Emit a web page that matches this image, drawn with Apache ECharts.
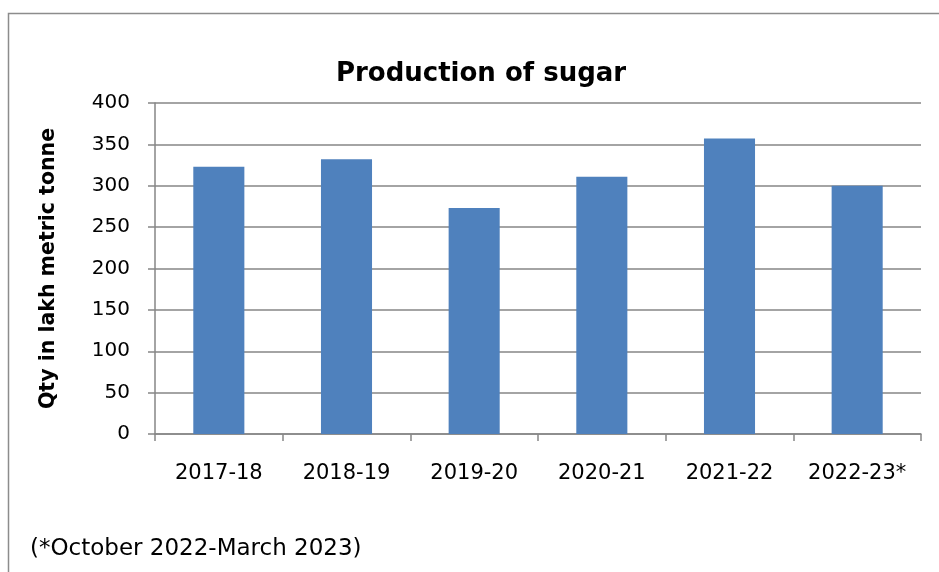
<!DOCTYPE html>
<html>
<head>
<meta charset="utf-8">
<script src="https://cdn.jsdelivr.net/npm/echarts@6/dist/echarts.min.js"></script>
<style>
  html, body { margin: 0; padding: 0; background: #fff; }
  #chart { width: 939px; height: 572px; }
</style>
</head>
<body>
<div id="chart"></div>
<script>
  const seasons = ['2017-18', '2018-19', '2019-20', '2020-21', '2021-22', '2022-23*'];
  const production = [323, 332, 273, 311, 357, 300];
  const yTicks = [0, 50, 100, 150, 200, 250, 300, 350, 400];

  const font = '"DejaVu Sans", sans-serif';
  const chart = echarts.init(document.getElementById('chart'));

  chart.setOption({
    backgroundColor: '#fff',
    animation: false,
    title: {
      text: 'Production of sugar',
      left: 476,
      top: 56,
      textAlign: 'center',
      textStyle: { fontFamily: font, fontSize: 26, fontWeight: 'bold', color: '#000' }
    },
    graphic: [
      {
        type: 'rect',
        shape: { x: 8.5, y: 13.5, width: 1000, height: 700 },
        style: { fill: 'none', stroke: '#8c8c8c', lineWidth: 1.5 },
        silent: true
      },
      {
        type: 'text',
        left: 30,
        top: 538,
        style: { text: '(*October 2022-March 2023)', fontFamily: font, fontSize: 23, fill: '#000' }
      }
    ],
    grid: { left: 155, right: 18, top: 103, height: 331 },
    xAxis: {
      type: 'category',
      data: seasons,
      axisLine: { lineStyle: { color: '#868686', width: 1.5 } },
      axisTick: { show: true, interval: 0, length: 7, lineStyle: { color: '#868686', width: 1.5 } },
      axisLabel: { interval: 0, fontFamily: font, fontSize: 21, color: '#000', margin: 29 }
    },
    yAxis: {
      type: 'value',
      min: yTicks[0],
      max: yTicks[yTicks.length - 1],
      interval: yTicks[1] - yTicks[0],
      name: 'Qty in lakh metric tonne',
      nameLocation: 'middle',
      nameGap: 96,
      nameTextStyle: { fontFamily: font, fontSize: 20.5, fontWeight: 'bold', color: '#000' },
      axisLine: { show: true, lineStyle: { color: '#868686', width: 1.5 } },
      axisTick: { show: true, length: 7, lineStyle: { color: '#868686', width: 1.5 } },
      axisLabel: { fontFamily: font, fontSize: 20, color: '#000', margin: 25 },
      splitLine: { lineStyle: { color: '#868686', width: 1.5 } }
    },
    series: [{
      type: 'bar',
      data: production,
      barCategoryGap: '60%',
      itemStyle: { color: '#4f81bd' }
    }]
  });
</script>
</body>
</html>
